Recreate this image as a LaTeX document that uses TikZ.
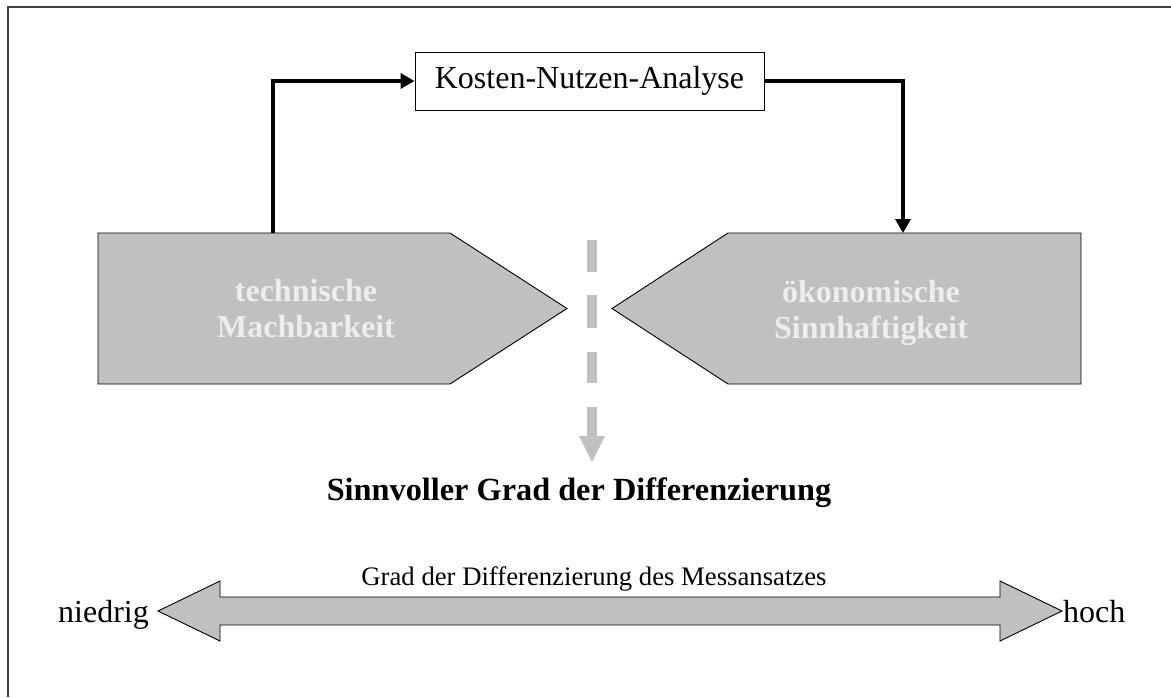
\documentclass[tikz,border=0pt]{standalone}
\usepackage{fontspec}
\setmainfont{Liberation Serif}
\usetikzlibrary{arrows.meta}
\definecolor{silverfill}{HTML}{C0C0C0}
\definecolor{framegray}{HTML}{404040}
\definecolor{paletext}{HTML}{EDEDED}
\tikzset{
  frameline/.style={draw=framegray, line width=2pt},
  pentagon/.style={fill=silverfill, draw=black, line width=0.9pt, line join=miter},
  pentlabel/.style={font=\fontsize{32}{36}\selectfont\bfseries, text=paletext, align=center, inner sep=0pt},
  kbox/.style={draw=black, line width=0.9pt, fill=white, minimum width=349pt, minimum height=58pt, inner sep=0pt, font=\fontsize{32}{36}\selectfont},
  conn/.style={draw=black, line width=3.5pt, -{Triangle[length=14pt,width=15pt]}},
  dashpiece/.style={fill=silverfill, draw=none},
  bigarrow/.style={fill=silverfill, draw=black, line width=0.9pt, line join=miter},
  plain/.style={inner sep=0pt, font=\fontsize{32}{36}\selectfont},
  smalltext/.style={inner sep=0pt, font=\fontsize{26.7}{30}\selectfont},
  titletext/.style={inner sep=0pt, font=\fontsize{32.3}{36}\selectfont\bfseries}
}
\begin{document}
\begin{tikzpicture}[x=1pt,y=-1pt]
\useasboundingbox (0,0) rectangle (1171,697);
% outer frame (only left and top visible)
\draw[frameline] (8,697) -- (8,7) -- (1171,7);

% pentagons
\path[pentagon] (98,233) -- (450,233) -- (567,308.5) -- (450,384) -- (98,384) -- cycle;
\path[pentagon] (1081,233) -- (728,233) -- (612,308.5) -- (728,384) -- (1081,384) -- cycle;
\node[pentlabel] (tech) at (306,309) {technische\\Machbarkeit};
\node[pentlabel] (oeko) at (871,312.5) {ökonomische\\Sinnhaftigkeit};
\coordinate (techtop) at (273,233);
\coordinate (oekotop) at (903,233);

% cost-benefit box and connectors
\node[kbox] (kna) at (589.5,81) {Kosten-Nutzen-Analyse};
\draw[conn] (techtop) |- (kna.west);
\draw[conn] (kna.east) -| (oekotop);

% dashed grey arrow
\path[dashpiece] (587,240) rectangle (597,272);
\path[dashpiece] (587,295) rectangle (597,328);
\path[dashpiece] (587,352) rectangle (597,383);
\path[dashpiece] (587,407) rectangle (597,437);
\path[dashpiece] (579,436) -- (605,436) -- (592,462) -- cycle;

% title
\node[titletext, anchor=base] (title) at (579,500) {Sinnvoller Grad der Differenzierung};

% double arrow
\path[bigarrow] (158,611) -- (220,581) -- (220,597) -- (1000,597) -- (1000,581) -- (1062,611)
  -- (1000,641) -- (1000,625) -- (220,625) -- (220,641) -- cycle;
\node[smalltext, anchor=base] (grad) at (594,585) {Grad der Differenzierung des Messansatzes};
\node[plain, anchor=base west] (low) at (58,622) {niedrig};
\node[plain, anchor=base west] (high) at (1063,622) {hoch};
\end{tikzpicture}
\end{document}
